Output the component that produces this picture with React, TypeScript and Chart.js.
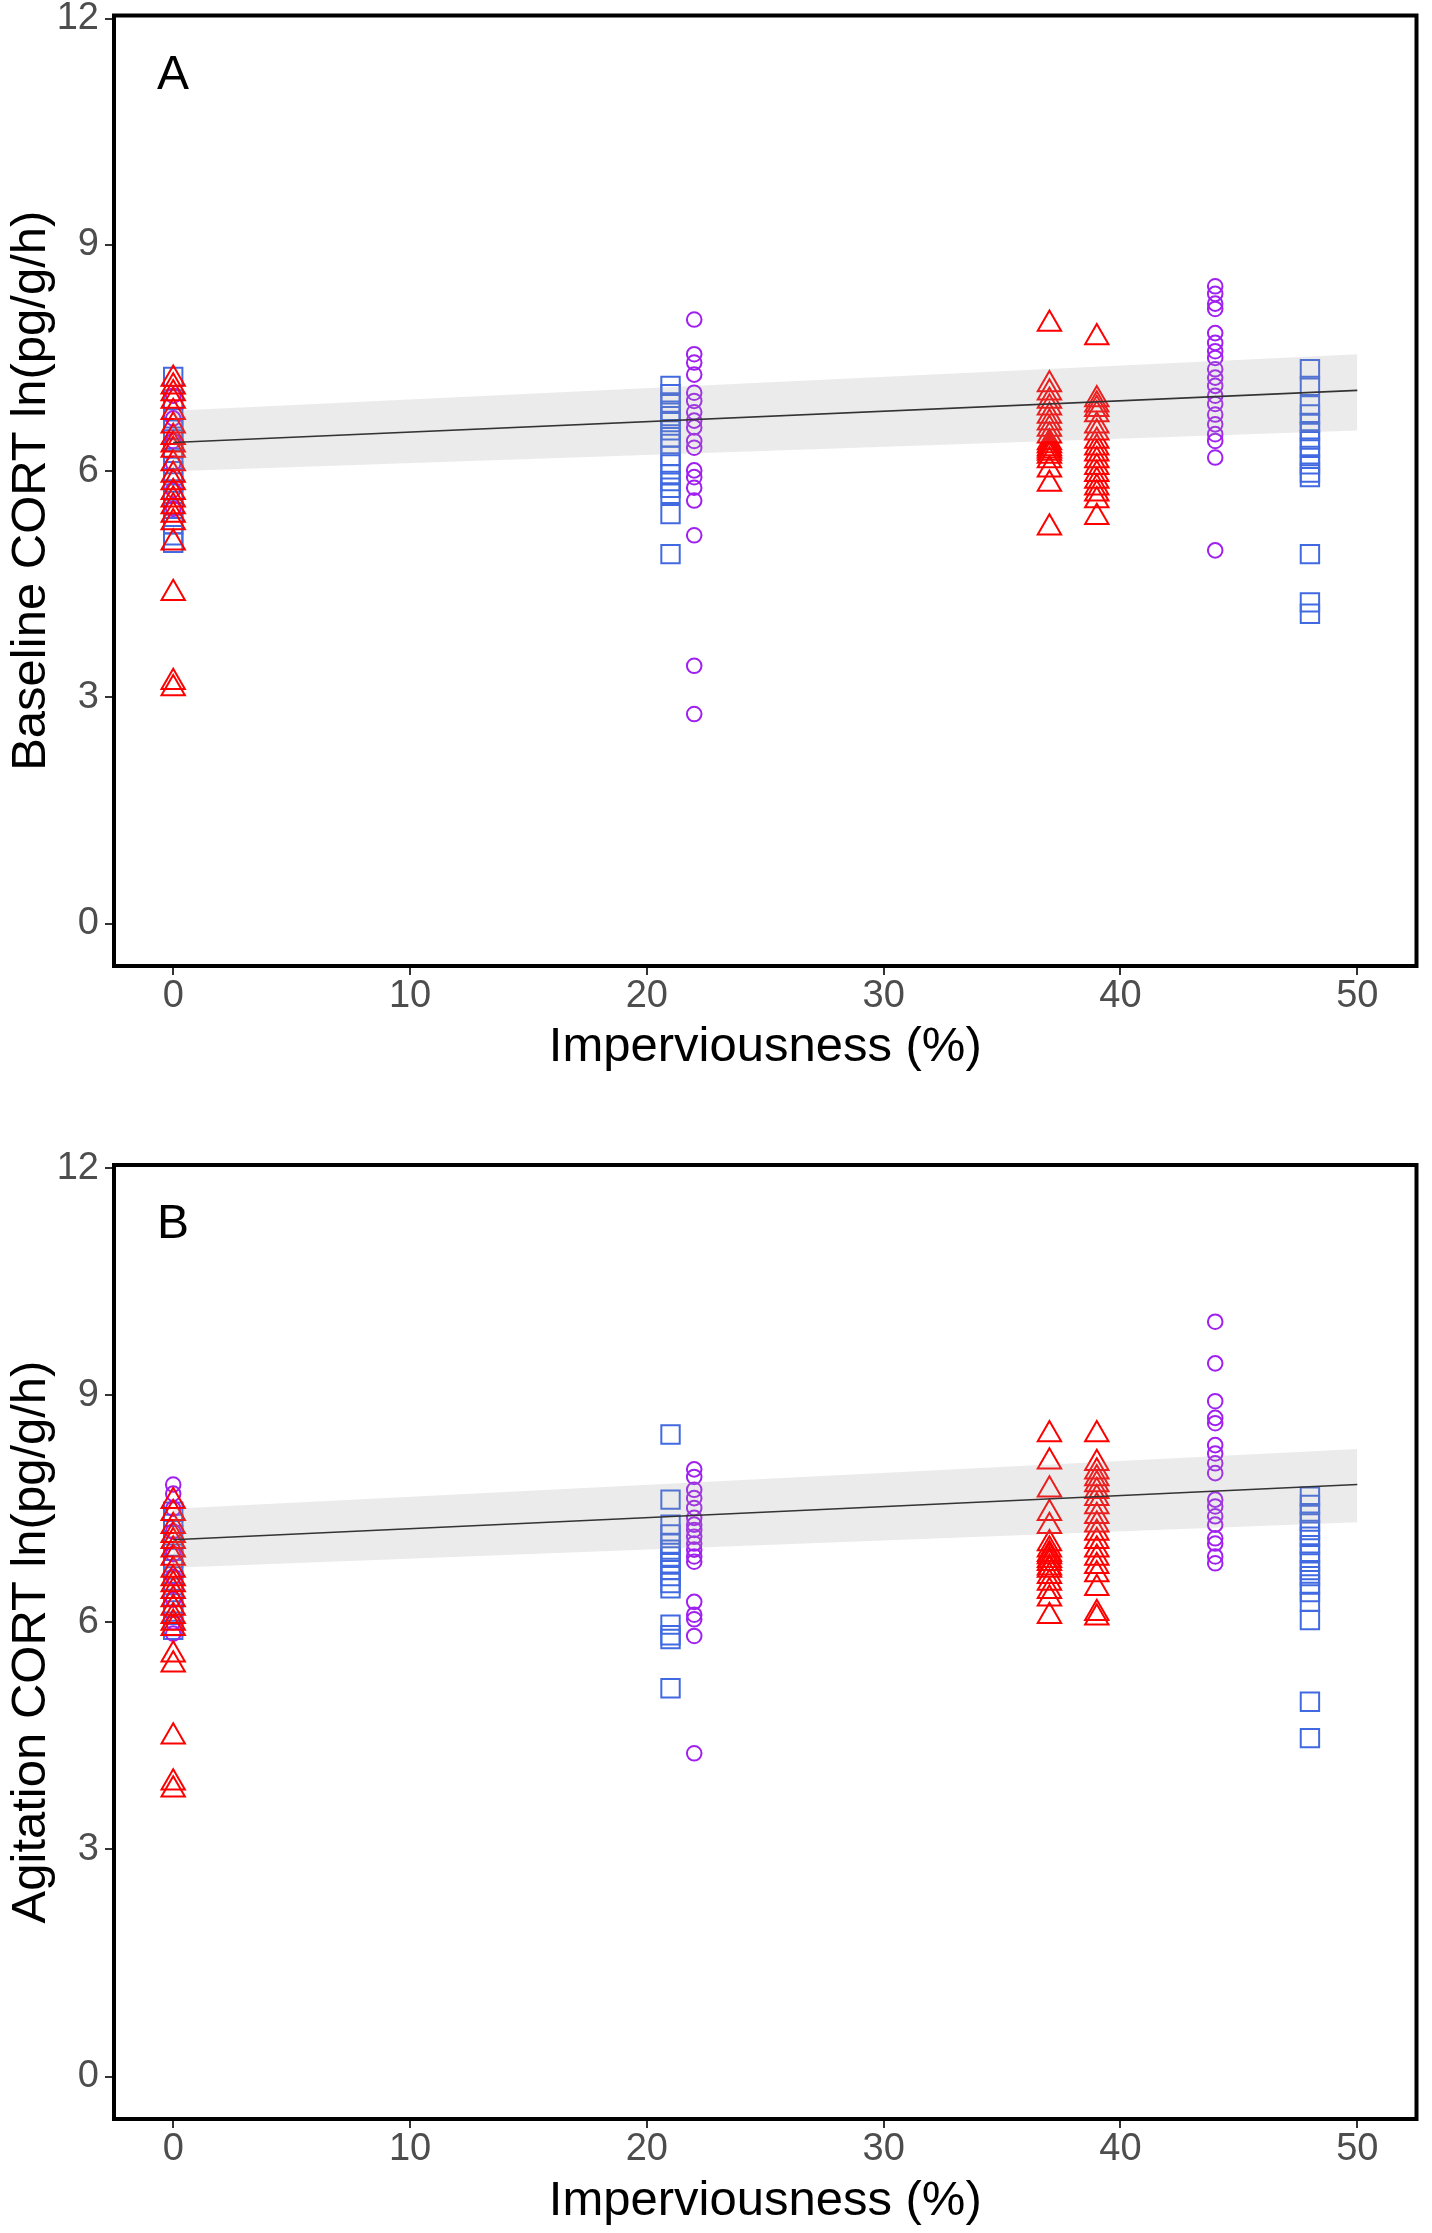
import React, { useEffect, useRef } from 'react';
import Chart from 'chart.js/auto';

const FONT = '"Liberation Sans", Arial, sans-serif';
Chart.defaults.font.family = FONT;

// axis ticks
const xTicks = [0, 10, 20, 30, 40, 50];
const yTicks = [0, 3, 6, 9, 12];

// ---- Panel A: baseline CORT ----
const baseTri0 = [7.22, 7.12, 7.03, 6.93, 6.78, 6.6, 6.45, 6.35, 6.28, 6.1, 5.95, 5.85, 5.72, 5.62, 5.53, 5.42, 5.32, 5.05, 4.38, 3.2, 3.12];
const baseTri37 = [7.95, 7.15, 7.04, 6.93, 6.84, 6.73, 6.64, 6.56, 6.47, 6.38, 6.34, 6.3, 6.27, 6.24, 6.2, 6.14, 6.02, 5.83, 5.25];
const baseTri39 = [7.77, 6.95, 6.88, 6.82, 6.75, 6.6, 6.51, 6.4, 6.31, 6.23, 6.14, 6.05, 5.96, 5.87, 5.78, 5.7, 5.61, 5.39];
const baseSq0 = [7.25, 6.95, 6.7, 6.55, 6.42, 6.3, 6.15, 6.0, 5.85, 5.7, 5.5, 5.3, 5.15, 5.05];
const baseSq21 = [7.13, 7.02, 6.91, 6.8, 6.73, 6.65, 6.54, 6.45, 6.36, 6.2, 6.09, 5.96, 5.87, 5.78, 5.7, 5.43, 4.9];
const baseSq48 = [7.35, 7.13, 6.87, 6.75, 6.64, 6.53, 6.42, 6.31, 6.2, 6.09, 5.98, 5.92, 4.9, 4.26, 4.11];
const baseCirc0 = [7.0, 6.7, 6.4, 6.1, 5.75, 5.5];
const baseCirc22 = [8.01, 7.55, 7.44, 7.28, 7.04, 6.93, 6.78, 6.67, 6.58, 6.4, 6.31, 6.01, 5.92, 5.78, 5.61, 5.15, 3.42, 2.78];
const baseCirc44 = [8.45, 8.35, 8.22, 8.15, 7.83, 7.7, 7.59, 7.5, 7.35, 7.24, 7.13, 7.0, 6.89, 6.75, 6.62, 6.49, 6.4, 6.18, 4.95];
const baseFit = [6.38, 7.07];
const baseUpper = [6.8, 7.55];
const baseLower = [6.0, 6.54];

// ---- Panel B: agitation CORT ----
const agiTri0 = [7.6, 7.44, 7.27, 7.15, 7.07, 6.96, 6.85, 6.69, 6.58, 6.5, 6.41, 6.3, 6.19, 6.08, 5.99, 5.92, 5.57, 5.44, 4.49, 3.88, 3.79];
const agiTri37 = [8.48, 8.12, 7.75, 7.44, 7.27, 7.04, 6.96, 6.9, 6.87, 6.82, 6.78, 6.72, 6.69, 6.61, 6.52, 6.41, 6.31, 6.08];
const agiTri39 = [8.48, 8.1, 7.99, 7.9, 7.82, 7.73, 7.64, 7.53, 7.4, 7.29, 7.18, 7.07, 6.96, 6.85, 6.74, 6.63, 6.45, 6.12, 6.06];
const agiSq0 = [7.46, 7.3, 7.15, 7.0, 6.85, 6.7, 6.55, 6.4, 6.25, 6.1, 5.95, 5.9];
const agiSq21 = [8.48, 7.62, 7.29, 7.16, 7.04, 6.96, 6.87, 6.78, 6.69, 6.61, 6.52, 6.45, 5.97, 5.83, 5.78, 5.13];
const agiSq48 = [7.66, 7.55, 7.44, 7.33, 7.22, 7.13, 7.02, 6.91, 6.8, 6.69, 6.61, 6.5, 6.4, 6.27, 6.03, 4.95, 4.47];
const agiCirc0 = [7.82, 7.7, 7.5, 7.2, 6.9, 6.6, 6.3, 6.0, 5.85];
const agiCirc22 = [8.02, 7.92, 7.75, 7.64, 7.51, 7.38, 7.29, 7.22, 7.13, 7.04, 6.96, 6.87, 6.8, 6.27, 6.1, 6.04, 5.82, 4.27];
const agiCirc44 = [9.97, 9.42, 8.92, 8.7, 8.63, 8.34, 8.23, 8.1, 7.97, 7.62, 7.53, 7.4, 7.29, 7.11, 7.04, 6.87, 6.78];
const agiFit = [7.09, 7.82];
const agiUpper = [7.5, 8.29];
const agiLower = [6.72, 7.32];

const fitX = [0, 50];

const pts = (x: number, ys: number[]) => ys.map((y) => ({ x, y }));
const line = (ys: number[]) => ys.map((y, i) => ({ x: fitX[i], y }));

interface PanelProps {
  label: string;
  yTitle: string;
  triangles: { x: number; y: number }[];
  squares: { x: number; y: number }[];
  circles: { x: number; y: number }[];
  fit: number[];
  upper: number[];
  lower: number[];
  top: number;
  height: number;
  padTop: number;
  xAxisHeight: number;
  titlePad: number;
}

const Panel = (p: PanelProps) => {
  const ref = useRef<HTMLCanvasElement>(null);

  useEffect(() => {
    if (!ref.current) return;
    // black frame round the panel + the panel letter
    const boxPlugin = {
      id: 'panelBox',
      afterDraw(chart: any) {
        const { ctx, chartArea: a } = chart;
        ctx.save();
        ctx.strokeStyle = '#000';
        ctx.lineWidth = 4;
        ctx.strokeRect(a.left, a.top, a.right - a.left, a.bottom - a.top);
        ctx.fillStyle = '#000';
        ctx.font = `48px ${FONT}`;
        ctx.textBaseline = 'alphabetic';
        ctx.fillText(p.label, a.left + 43, a.top + 73);
        ctx.restore();
      },
    };
    const marker = (style: string, color: string, r: number) => ({
      pointStyle: style,
      pointRadius: r,
      pointBorderColor: color,
      pointBackgroundColor: 'rgba(0,0,0,0)',
      pointBorderWidth: 2,
      borderColor: color,
      backgroundColor: 'rgba(0,0,0,0)',
    });
    const chart = new Chart(ref.current, {
      type: 'scatter',
      data: {
        datasets: [
          { type: 'line', data: line(p.fit), borderColor: '#333333', borderWidth: 1.6, pointRadius: 0, fill: false },
          { type: 'line', data: line(p.upper), borderWidth: 0, pointRadius: 0, fill: '+1', backgroundColor: 'rgba(153,153,153,0.2)' },
          { type: 'line', data: line(p.lower), borderWidth: 0, pointRadius: 0, fill: false },
          { data: p.triangles, ...marker('triangle', '#FF0000', 13.5) },
          { data: p.circles, ...marker('circle', '#A020F0', 7.3) },
          { data: p.squares, ...marker('rect', '#4169E1', 13) },
        ] as any,
      },
      options: {
        animation: false,
        responsive: false,
        events: [],
        layout: { padding: { top: p.padTop, right: 10, left: 0, bottom: 0 } },
        plugins: { legend: { display: false }, tooltip: { enabled: false } },
        scales: {
          x: {
            type: 'linear',
            min: -2.5,
            max: 52.5,
            afterBuildTicks: (s: any) => { s.ticks = xTicks.map((v) => ({ value: v })); },
            afterFit: (s: any) => { s.height = p.xAxisHeight; s.paddingLeft = 0; s.paddingRight = 0; },
            grid: { display: true, drawOnChartArea: false, drawTicks: true, tickLength: 9, color: '#333333', lineWidth: 2 },
            border: { display: false },
            ticks: { color: '#4D4D4D', font: { size: 38, lineHeight: 1 }, padding: 3, maxRotation: 0, autoSkip: false },
            title: { display: true, text: 'Imperviousness (%)', color: '#000', font: { size: 49, lineHeight: 1 }, padding: { top: 0, bottom: p.titlePad } },
          },
          y: {
            min: -0.56,
            max: 12.04,
            afterBuildTicks: (s: any) => { s.ticks = yTicks.map((v) => ({ value: v })); },
            afterFit: (s: any) => { s.width = 114; s.paddingTop = 0; s.paddingBottom = 0; },
            grid: { display: true, drawOnChartArea: false, drawTicks: true, tickLength: 9, color: '#333333', lineWidth: 2 },
            border: { display: false },
            ticks: { color: '#4D4D4D', font: { size: 38, lineHeight: 1 }, padding: 6 },
            title: { display: true, text: p.yTitle, color: '#000', font: { size: 49, lineHeight: 1 }, padding: { top: 7, bottom: 0 } },
          },
        },
      } as any,
      plugins: [boxPlugin],
    });
    return () => chart.destroy();
  }, [p]);

  return (
    <canvas
      ref={ref}
      width={1432}
      height={p.height}
      style={{ position: 'absolute', left: 0, top: p.top, width: 1432, height: p.height }}
    />
  );
};

const panelA: PanelProps = {
  label: 'A',
  yTitle: 'Baseline CORT ln(pg/g/h)',
  triangles: [...pts(0, baseTri0), ...pts(37, baseTri37), ...pts(39, baseTri39)],
  squares: [...pts(0, baseSq0), ...pts(21, baseSq21), ...pts(48, baseSq48)],
  circles: [...pts(0, baseCirc0), ...pts(22, baseCirc22), ...pts(44, baseCirc44)],
  fit: baseFit,
  upper: baseUpper,
  lower: baseLower,
  top: 0,
  height: 1100,
  padTop: 14,
  xAxisHeight: 134,
  titlePad: 28,
};

const panelB: PanelProps = {
  label: 'B',
  yTitle: 'Agitation CORT ln(pg/g/h)',
  triangles: [...pts(0, agiTri0), ...pts(37, agiTri37), ...pts(39, agiTri39)],
  squares: [...pts(0, agiSq0), ...pts(21, agiSq21), ...pts(48, agiSq48)],
  circles: [...pts(0, agiCirc0), ...pts(22, agiCirc22), ...pts(44, agiCirc44)],
  fit: agiFit,
  upper: agiUpper,
  lower: agiLower,
  top: 1100,
  height: 1133,
  padTop: 65,
  xAxisHeight: 114,
  titlePad: 7,
};

export default function App() {
  return (
    <div style={{ position: 'absolute', left: 0, top: 0, width: 1432, height: 2233, background: '#fff', overflow: 'hidden' }}>
      <Panel {...panelA} />
      <Panel {...panelB} />
    </div>
  );
}
